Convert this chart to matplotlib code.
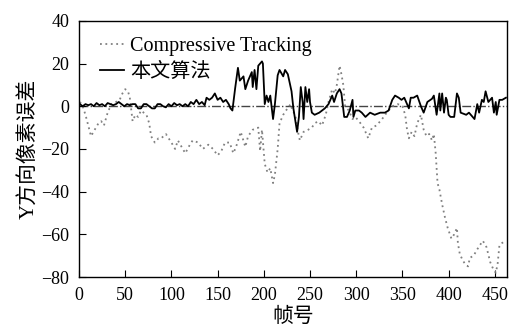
import numpy as np
import matplotlib
matplotlib.use("Agg")
import matplotlib.pyplot as plt

plt.rcParams['font.family'] = ['Liberation Serif', 'Noto Sans CJK SC']

# Compressive Tracking (frame, error)
ct_frames = [1, 4, 7, 10, 13, 17, 21, 24, 27, 31, 35, 40, 44, 47, 50, 53, 55, 58, 61, 64,
             67, 70, 73, 76, 78, 82, 86, 89, 94, 100, 104, 107, 111, 115, 120, 123, 129, 134, 140, 145,
             150, 154, 158, 163, 167, 170, 175, 180, 183, 188, 194, 196, 198, 201, 204, 207, 210, 212, 215, 217,
             221, 224, 229, 231, 234, 237, 239, 243, 248, 252, 255, 259, 263, 267, 270, 274, 277, 279, 282, 284,
             286, 288, 292, 296, 299, 303, 308, 313, 317, 322, 328, 333, 339, 345, 350, 353, 355, 357, 360, 363,
             366, 370, 373, 376, 379, 382, 384, 386, 388, 390, 393, 396, 399, 403, 406, 409, 410, 412, 415, 418,
             421, 423, 427, 431, 434, 437, 441, 445, 448, 451, 453, 455, 458, 462]
ct_err = [2, 0, -4, -9, -14, -11, -8, -7, -9, -3, 1, 2, 3, 6, 8, 7, 4, -7, -4, -5,
          -2, -3, -4, -8, -14, -17, -15, -15, -13, -17, -20, -16, -19, -22, -18, -16, -17, -20, -18, -20,
          -23, -21, -17, -17, -22, -19, -12, -19, -14, -11, -10, -21, -11, -27, -31, -29, -36, -32, -20, -8,
          -4, -2, 1, -2, -4, -12, -16, -12, -11, -10, -8, -7, -9, -4, 2, 8, 6, 10, 19, 15,
          10, 0, -2, -6, -5, -7, -10, -15, -10, -9, -6, -3, 0, 1, 0, -4, -11, -15, -12, -14,
          -8, -4, -11, -14, -13, -16, -13, -22, -36, -39, -46, -52, -57, -62, -60, -57, -64, -69, -72, -74,
          -75, -71, -70, -67, -65, -63, -66, -73, -76, -78, -74, -65, -64, -63]

# proposed method (frame, error)
our_frames = [1, 4, 7, 10, 13, 16, 19, 22, 25, 28, 31, 34, 37, 40, 43, 46, 49, 52, 55, 58,
              61, 64, 67, 70, 73, 76, 79, 82, 85, 88, 91, 94, 97, 100, 103, 106, 109, 112, 115, 118,
              121, 124, 127, 130, 133, 136, 138, 141, 144, 147, 150, 153, 156, 159, 162, 164, 166, 169, 172, 174,
              178, 180, 183, 187, 188, 190, 192, 194, 198, 199, 201, 203, 205, 207, 210, 212, 215, 217, 221, 223,
              226, 230, 232, 236, 238, 240, 242, 243, 245, 247, 249, 250, 252, 255, 260, 263, 266, 270, 274, 276,
              279, 282, 284, 287, 290, 293, 296, 297, 299, 303, 306, 310, 315, 320, 326, 331, 335, 339, 342, 346,
              349, 352, 354, 357, 359, 362, 366, 370, 373, 377, 382, 384, 387, 390, 391, 393, 395, 397, 398, 400,
              402, 406, 409, 411, 413, 419, 422, 426, 428, 431, 433, 436, 438, 440, 443, 447, 449, 451, 452, 455,
              458, 462]
our_err = [1, 0, 1, 0.5, 1, 0, 1.5, 0.5, 1, 0, 1.5, 1, 0.5, 1, 2, 1, 0, 1, 0.5, 1,
           1, -1, -1, 1, 1, 0, -1, -1, 1, 1, 0, -0.5, 1, 0, 1.5, 0.5, 1, 0, 1, 0,
           2, 1, 3, 1, 2, 0.5, 4, 3, 4, 6, 3, 4, 2, 3, 1, -1, -2, 8.5, 18, 12,
           14, 8, 12, 16, 9, 17, 8, 19, 21, 20, 1, 5, 2, 5, -6, 1, 14.5, 17, 14, 17,
           15, 7, -1, -12, -5, 9, 2, -6, 9, 2, 8, 2, -3, -4, -3, -2, -1, 1, 5, 2,
           6, 8, 6, -5, -5, -2, 3, -5, -2, -2, -3, -5, -3, -4, -3, -3, -2, 3, 5, 4,
           3, 4, 2, -1, 4, 4, 5, 0, -3, 2, 3.5, 5, -4, 6, -2, 6, -3, 4, 3, -4,
           -5, -5, 6, 4, -3, -4, -3, -5, -6, 1, -3, 3, 2, 7, 2, 4, -3, 2, -4, 3,
           3, 4]

fig = plt.figure(figsize=(5.13, 3.31), dpi=100)
ax = fig.add_axes([0.154, 0.163, 0.834, 0.774])

ax.axhline(0, color='#444444', lw=1.0, ls='-.', zorder=1)
ax.plot(ct_frames, ct_err, color='#808080', lw=1.3, ls=(0, (1, 2)), label='Compressive Tracking')
ax.plot(our_frames, our_err, color='black', lw=1.3, label='本文算法')

ax.set_xlim(0, 463)
ax.set_ylim(-80, 40)
ax.set_xticks(np.arange(0, 451, 50))
ax.set_yticks(np.arange(-80, 41, 20))
ax.tick_params(direction='in', length=5, labelsize=13, top=False, right=False)
ax.tick_params(axis='x', pad=7)
ax.tick_params(axis='y', pad=7)
for s in ax.spines.values():
    s.set_linewidth(1.0)

ax.set_xlabel('帧号', fontsize=15, labelpad=3)
ax.set_ylabel('Y方向像素误差', fontsize=15, labelpad=2)

ax.legend(loc='upper left', frameon=False, fontsize=14.5, handlelength=1.2,
          handletextpad=0.3, labelspacing=0.35, borderaxespad=0.2,
          bbox_to_anchor=(0.02, 0.985))

fig.savefig('out.png', dpi=100)
